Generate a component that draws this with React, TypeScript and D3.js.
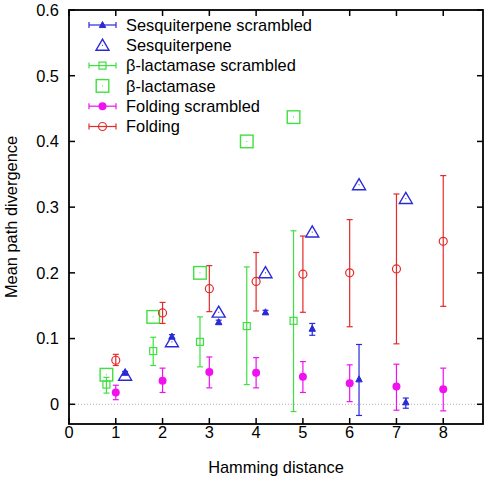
import React from "react";
import * as d3 from "d3";

const W = 490;
const H = 481;

const yTicks = [0, 0.1, 0.2, 0.3, 0.4, 0.5, 0.6];
const yTickLabels = ["0", "0.1", "0.2", "0.3", "0.4", "0.5", "0.6"];
const xTicks = [0, 1, 2, 3, 4, 5, 6, 7, 8];

// Sesquiterpene (offset +0.2)
const sesqX = [1.2, 2.2, 3.2, 4.2, 5.2, 6.2, 7.2];
const sesqMean = [0.044, 0.095, 0.14, 0.2, 0.262, 0.334, 0.313];
const sesqScrMean = [0.048, 0.103, 0.125, 0.14, 0.115, 0.038, 0.003];
const sesqScrLo = [0.046, 0.1, 0.122, 0.137, 0.105, -0.017, -0.006];
const sesqScrHi = [0.05, 0.106, 0.128, 0.143, 0.123, 0.091, 0.0095];

// beta-lactamase (offset -0.2)
const blacX = [0.8, 1.8, 2.8, 3.8, 4.8];
const blacMean = [0.045, 0.133, 0.2, 0.4, 0.437];
const blacScrMean = [0.03, 0.081, 0.095, 0.119, 0.127];
const blacScrLo = [0.017, 0.059, 0.057, 0.03, -0.011];
const blacScrHi = [0.041, 0.102, 0.133, 0.209, 0.264];

// Folding
const foldX = [1, 2, 3, 4, 5, 6, 7, 8];
const foldMean = [0.067, 0.139, 0.176, 0.187, 0.198, 0.2, 0.206, 0.248];
const foldLo = [0.059, 0.123, 0.141, 0.142, 0.14, 0.118, 0.092, 0.149];
const foldHi = [0.076, 0.155, 0.211, 0.231, 0.256, 0.281, 0.32, 0.348];
const foldScrMean = [0.018, 0.036, 0.049, 0.048, 0.042, 0.032, 0.027, 0.023];
const foldScrLo = [0.007, 0.018, 0.025, 0.025, 0.018, 0.004, -0.009, -0.01];
const foldScrHi = [0.029, 0.055, 0.072, 0.071, 0.065, 0.06, 0.061, 0.055];

const legendLabels = [
  "Sesquiterpene scrambled",
  "Sesquiterpene",
  "β-lactamase scrambled",
  "β-lactamase",
  "Folding scrambled",
  "Folding",
];

const BLUE = "#2a2ad8";
const GREEN = "#3fe03f";
const MAGENTA = "#f010f0";
const RED = "#e52a2a";
const FONT = "'Liberation Sans', Arial, Helvetica, sans-serif";

const L = 69, R = 483, T = 10, B = 424;
const x = d3.scaleLinear().domain([0, 8.85]).range([L, R]);
const y = d3.scaleLinear().domain([-0.03, 0.6]).range([B, T]);

type Shape = "smallTri" | "bigTri" | "smallSq" | "bigSq" | "dot" | "ring";

function Marker({ cx, cy, shape, color }: { cx: number; cy: number; shape: Shape; color: string }) {
  if (shape === "smallTri") {
    const s = 3.2;
    return (
      <path
        d={`M${cx},${cy - s * 1.1}L${cx + s},${cy + s * 0.8}L${cx - s},${cy + s * 0.8}Z`}
        fill={color}
        stroke={color}
        strokeWidth={1}
      />
    );
  }
  if (shape === "bigTri") {
    const s = 6.5;
    return (
      <g>
        <path
          d={`M${cx},${cy - s * 0.95}L${cx + s},${cy + s * 0.75}L${cx - s},${cy + s * 0.75}Z`}
          fill="none"
          stroke={color}
          strokeWidth={1.4}
        />
        <rect x={cx - 0.5} y={cy - 0.5} width={1} height={1} fill={color} />
      </g>
    );
  }
  if (shape === "smallSq") {
    return <rect x={cx - 3.5} y={cy - 3.5} width={7} height={7} fill="none" stroke={color} strokeWidth={1.2} />;
  }
  if (shape === "bigSq") {
    return (
      <g>
        <rect x={cx - 6.3} y={cy - 6.3} width={12.6} height={12.6} fill="none" stroke={color} strokeWidth={1.4} />
        <rect x={cx - 0.5} y={cy - 0.5} width={1} height={1} fill={color} />
      </g>
    );
  }
  if (shape === "dot") {
    return <circle cx={cx} cy={cy} r={4} fill={color} />;
  }
  return <circle cx={cx} cy={cy} r={4} fill="none" stroke={color} strokeWidth={1.2} />;
}

function ErrBar({ px, lo, hi, color }: { px: number; lo: number; hi: number; color: string }) {
  const c = 3;
  return (
    <g stroke={color} strokeWidth={1.2}>
      <line x1={px} x2={px} y1={lo} y2={hi} />
      <line x1={px - c} x2={px + c} y1={lo} y2={lo} />
      <line x1={px - c} x2={px + c} y1={hi} y2={hi} />
    </g>
  );
}

export default function App() {
  const legendY = (i: number) => 25 + i * 20.3;
  const legendShapes: Shape[] = ["smallTri", "bigTri", "smallSq", "bigSq", "dot", "ring"];
  const legendColors = [BLUE, BLUE, GREEN, GREEN, MAGENTA, RED];
  const legendHasBar = [true, false, true, false, true, true];

  return (
    <svg
      width={W}
      height={H}
      style={{ position: "absolute", left: 0, top: 0, background: "#fff" }}
      fontFamily={FONT}
    >
      <rect x={0} y={0} width={W} height={H} fill="#fff" />
      {/* zero line */}
      <line x1={L} x2={R} y1={y(0)} y2={y(0)} stroke="#999" strokeWidth={0.8} strokeDasharray="1,2" />

      {/* Sesquiterpene scrambled */}
      {sesqX.map((v, i) => (
        <g key={"ss" + i}>
          <ErrBar px={x(v)} lo={y(sesqScrLo[i])} hi={y(sesqScrHi[i])} color={BLUE} />
          <Marker cx={x(v)} cy={y(sesqScrMean[i])} shape="smallTri" color={BLUE} />
        </g>
      ))}
      {/* Sesquiterpene */}
      {sesqX.map((v, i) => (
        <Marker key={"s" + i} cx={x(v)} cy={y(sesqMean[i])} shape="bigTri" color={BLUE} />
      ))}
      {/* beta-lactamase scrambled */}
      {blacX.map((v, i) => (
        <g key={"bs" + i}>
          <ErrBar px={x(v)} lo={y(blacScrLo[i])} hi={y(blacScrHi[i])} color={GREEN} />
          <Marker cx={x(v)} cy={y(blacScrMean[i])} shape="smallSq" color={GREEN} />
        </g>
      ))}
      {/* beta-lactamase */}
      {blacX.map((v, i) => (
        <Marker key={"b" + i} cx={x(v)} cy={y(blacMean[i])} shape="bigSq" color={GREEN} />
      ))}
      {/* Folding scrambled */}
      {foldX.map((v, i) => (
        <g key={"fs" + i}>
          <ErrBar px={x(v)} lo={y(foldScrLo[i])} hi={y(foldScrHi[i])} color={MAGENTA} />
          <Marker cx={x(v)} cy={y(foldScrMean[i])} shape="dot" color={MAGENTA} />
        </g>
      ))}
      {/* Folding */}
      {foldX.map((v, i) => (
        <g key={"f" + i}>
          <ErrBar px={x(v)} lo={y(foldLo[i])} hi={y(foldHi[i])} color={RED} />
          <Marker cx={x(v)} cy={y(foldMean[i])} shape="ring" color={RED} />
        </g>
      ))}

      {/* frame */}
      <rect x={L} y={T} width={R - L} height={B - T} fill="none" stroke="#000" strokeWidth={1.8} />

      {/* y ticks */}
      {yTicks.map((t, i) => (
        <g key={"yt" + i}>
          <line x1={L} x2={L + 6} y1={y(t)} y2={y(t)} stroke="#000" strokeWidth={1.5} />
          <line x1={R - 6} x2={R} y1={y(t)} y2={y(t)} stroke="#000" strokeWidth={1.5} />
          <text x={59} y={y(t)} dy="0.36em" textAnchor="end" fontSize={16.4} fill="#000">
            {yTickLabels[i]}
          </text>
        </g>
      ))}
      {/* x ticks */}
      {xTicks.map((t) => (
        <g key={"xt" + t}>
          <line x1={x(t)} x2={x(t)} y1={B} y2={B - 6} stroke="#000" strokeWidth={1.5} />
          <line x1={x(t)} x2={x(t)} y1={T} y2={T + 6} stroke="#000" strokeWidth={1.5} />
          <text x={x(t)} y={438} textAnchor="middle" fontSize={16.4} fill="#000">
            {String(t)}
          </text>
        </g>
      ))}

      {/* axis titles */}
      <text x={(L + R) / 2} y={473} textAnchor="middle" fontSize={16.4} fill="#000">
        Hamming distance
      </text>
      <text transform={`translate(17, ${(T + B) / 2}) rotate(-90)`} textAnchor="middle" fontSize={16.4} fill="#000">
        Mean path divergence
      </text>

      {/* legend */}
      {legendLabels.map((lab, i) => {
        const ly = legendY(i);
        const c = legendColors[i];
        return (
          <g key={"lg" + i}>
            {legendHasBar[i] && (
              <g stroke={c} strokeWidth={1.2}>
                <line x1={89} x2={116} y1={ly} y2={ly} />
                <line x1={89} x2={89} y1={ly - 3} y2={ly + 3} />
                <line x1={116} x2={116} y1={ly - 3} y2={ly + 3} />
              </g>
            )}
            <Marker cx={102.5} cy={ly} shape={legendShapes[i]} color={c} />
            <text x={126} y={ly + 5.8} fontSize={16.4} fill="#000">
              {lab}
            </text>
          </g>
        );
      })}
    </svg>
  );
}
